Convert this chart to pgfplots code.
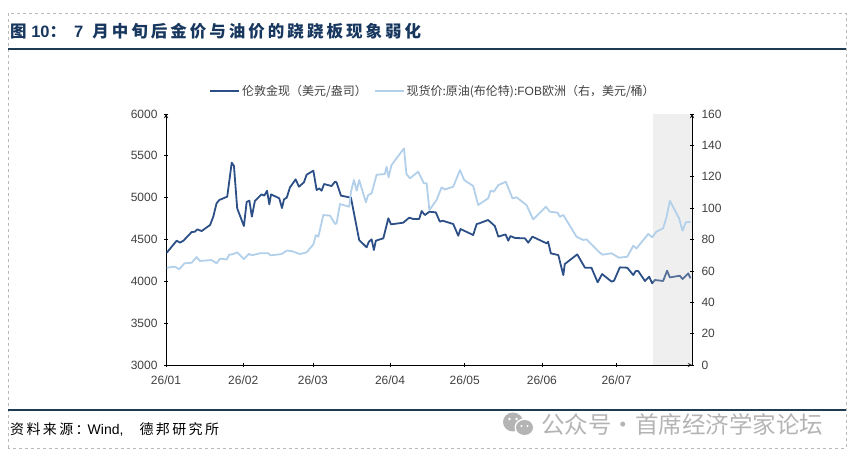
\documentclass[border=0pt]{standalone}
\usepackage{fontspec}
\usepackage{pgfplots}
\usepackage{pgfplotstable}
\pgfplotsset{compat=1.18}
\setmainfont{Liberation Sans}
\newfontfamily\cjk{Noto Sans CJK SC}
\newfontfamily\cjktitle[LetterSpace=18.3]{Noto Sans CJK SC}
\newfontfamily\cjksrc[LetterSpace=17]{Noto Sans CJK SC}
\definecolor{gold}{HTML}{2D4F87}
\definecolor{oil}{HTML}{B2D0EA}
\definecolor{titleblue}{HTML}{17375E}
\definecolor{rulecol}{HTML}{1F3B52}
\definecolor{ticktext}{HTML}{404040}
\definecolor{wm}{HTML}{B4B4B4}

% x is days since 2026-01-01
\pgfplotstableread{
d g
0.3 4342
2.3 4414
4.3 4486
5.6 4462
7.0 4486
10.3 4589
11.6 4593
12.6 4621
14.3 4601
17.7 4673
19.0 4773
20.3 4932
21.4 4972
24.6 5012
26.4 5418
27.3 5378
28.6 4872
31.3 4661
32.4 4948
33.5 4964
34.5 4773
35.7 4960
38.4 5040
39.5 5024
40.6 5083
41.5 4920
42.2 5040
45.5 4992
46.6 4876
47.4 4980
48.5 5000
49.8 5123
52.1 5219
53.4 5131
55.4 5183
56.5 5275
59.2 5322
60.5 5091
61.6 5111
62.5 5083
63.5 5163
66.5 5139
67.9 5191
68.5 5183
70.3 5024
74.3 5000
77.6 4494
80.6 4406
81.5 4474
82.6 4502
83.5 4374
84.3 4486
87.3 4514
89.3 4753
90.4 4681
95.3 4701
97.7 4761
99.3 4745
101.7 4745
102.7 4840
104.0 4792
105.8 4832
108.4 4824
110.0 4713
111.1 4725
115.4 4685
117.4 4545
118.3 4625
123.4 4554
124.8 4685
125.8 4693
129.4 4733
132.1 4661
133.5 4534
136.4 4561
137.5 4486
138.4 4541
140.2 4518
144.2 4514
145.5 4462
147.2 4534
152.9 4454
153.5 4474
154.6 4334
157.6 4314
159.6 4075
160.2 4207
165.2 4322
168.3 4163
170.9 4163
173.4 3988
175.2 4087
179.0 3996
180.0 4008
182.3 4167
185.3 4163
187.7 4075
188.7 4123
189.7 4123
192.4 4004
194.1 4055
195.3 3976
196.4 4016
199.7 4004
201.3 4127
202.4 4047
206.4 4067
207.5 4028
209.8 4095
210.7 4036
}\goldtable

\pgfplotstableread{
d o
0.3 62.0
3.6 62.7
5.3 61.0
7.4 64.8
10.3 65.2
12.3 68.8
13.6 66.3
18.3 66.9
20.3 64.8
21.7 67.8
24.4 67.3
25.4 70.3
27.0 70.7
28.6 71.8
31.3 67.5
33.3 70.9
34.4 69.9
37.7 71.2
41.1 71.2
42.0 69.9
46.4 70.7
48.5 72.9
50.5 72.6
53.8 70.7
56.5 71.8
59.2 76.9
60.2 82.8
61.2 81.8
63.2 95.6
65.9 95.2
67.9 89.9
68.5 90.3
69.9 102.6
73.6 100.9
74.3 110.5
75.5 117.9
76.6 111.1
77.6 117.9
80.3 103.7
81.2 108.3
82.6 109.4
84.6 121.3
87.9 121.7
88.6 126.4
89.4 119.6
90.6 127.5
95.6 138.1
96.6 121.7
98.0 119.0
101.3 123.2
103.6 115.8
104.7 115.8
105.8 98.8
108.7 105.2
110.7 113.2
112.0 111.9
115.4 113.7
118.1 124.3
119.8 117.9
123.4 114.1
125.4 102.0
129.4 106.2
130.4 111.1
131.7 110.5
133.5 114.7
136.5 116.8
139.2 106.2
140.8 106.9
144.8 102.0
147.5 92.8
152.6 100.9
154.2 97.7
157.3 97.1
158.2 94.5
159.6 95.6
164.9 81.8
167.6 79.7
168.9 80.1
174.3 71.6
175.4 70.3
179.0 71.2
181.9 68.4
185.3 69.0
187.7 76.0
189.0 74.3
193.7 83.5
195.3 81.4
197.0 85.0
199.7 87.1
201.1 94.5
202.4 104.7
206.1 93.5
207.5 85.6
208.8 90.9
210.7 91.3
}\oiltable

\pgfplotsset{
  base/.style={
    scale only axis, width=526pt, height=251pt,
    at={(166pt,93pt)}, anchor=south west,
    xmin=0, xmax=211.3,
    tick align=outside, major tick length=4pt,
    tick style={black, line width=0.7pt},
    axis line style={-, black, line width=0.9pt},
    tick label style={font=\fontsize{12}{14}\selectfont, text=ticktext},
    /pgf/number format/assume math mode=true,
    /pgf/number format/1000 sep={},
  },
}

\begin{document}
\begin{tikzpicture}[x=1pt,y=1pt]
\useasboundingbox (0,0) rectangle (852,458);

% frame and rules
\draw[gray!55, dashed, line width=0.7pt] (8,10) rectangle (846,445);
\draw[rulecol, line width=2pt] (8,408.5) -- (846,408.5);
\draw[rulecol, line width=2pt] (8,48) -- (846,48);

\begin{axis}[base,
    axis x line=bottom, axis y line=left,
    ymin=3000, ymax=6000, ytick={3000,3500,...,6000},
    xtick={0,31,59,90,120,151,181},
    xticklabels={26/01,26/02,26/03,26/04,26/05,26/06,26/07},
    xticklabel style={yshift=-5pt},
    yticklabel style={xshift=-3pt},
]
\addplot[gold, line width=1.8pt, line join=round] table[x=d,y=g] {\goldtable};
% the shaded band lies over the gold line, which shows through it
\addplot[fill=black!22, fill opacity=0.28, draw=none] coordinates {(195.6,3000) (195.6,6000) (211.3,6000) (211.3,3000)} -- cycle;
\end{axis}

\begin{axis}[base,
    axis x line=none, axis y line=right,
    ymin=0, ymax=160, ytick={0,20,...,160},
    yticklabel style={xshift=4pt},
    legend columns=2,
    legend cell align=left,
    legend style={at={(0.5076,1.0916)}, anchor=center, draw=none, fill=none,
      font=\fontsize{12}{14}\selectfont\color{ticktext},
      /tikz/every even column/.append style={column sep=5pt}},
    legend image code/.code={\draw[#1, line width=1.8pt] (0,0) -- (29pt,0);},
]
\addlegendimage{gold}
\addlegendentry{{\cjk 伦敦金现（美元/盎司）}}
\addplot[oil, line width=1.8pt, line join=round] table[x=d,y=o] {\oiltable};
\addlegendentry{{\cjk 现货价:原油(布伦特):}FOB{\cjk 欧洲（右，美元/桶）}}
\end{axis}

% title, source, watermark
\node[anchor=west, inner sep=0pt, text=titleblue, font=\fontsize{16.5}{20}\selectfont\bfseries] at (10,426.5)
  {{\cjk 图} 10{\cjk ：}\hspace{8pt}7\hspace{9pt}{\cjktitle 月中旬后金价与油价的跷跷板现象弱化}};
\node[anchor=west, inner sep=0pt, font=\fontsize{14}{17}\selectfont] at (10,29)
  {{\cjksrc 资料来源：}\hspace{-2pt}Wind,\hspace{16pt}{\cjksrc 德邦研究所}};
\node[anchor=west, inner sep=0pt, text=wm, font=\fontsize{23.5}{28}\selectfont\cjk] at (541,33.5)
  {公众号·首席经济学家论坛};
\fill[wm] (513,36) ellipse (10 and 9.5);
\fill[white] (524.5,30.5) ellipse (10 and 9);
\fill[wm] (524.5,30.5) ellipse (8.5 and 7.5);
\fill[white] (509.5,39) circle (1.3) (516.5,39) circle (1.3) (521.5,32) circle (1.1) (527.5,32) circle (1.1);
\end{tikzpicture}
\end{document}
